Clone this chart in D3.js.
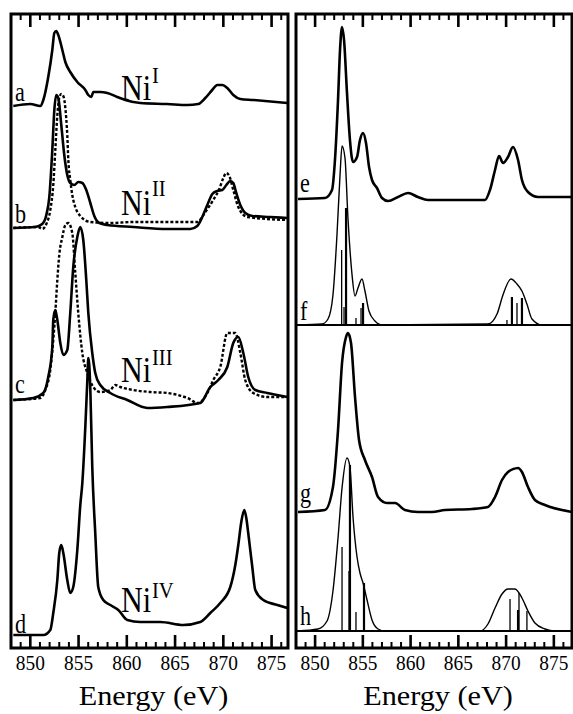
<!doctype html>
<html lang="en">
  <head>
    <title>Ni L-edge spectra</title>
    <style>
      body {
        margin: 0;
        background: #fff;
      }
      svg {
        display: block;
      }
      text {
        font-family: "Liberation Serif", "Times New Roman", serif;
        fill: #000;
      }
    </style>
  </head>
  <body>
    <svg id="chart" width="573" height="714"></svg>

    <script src="https://cdn.jsdelivr.net/npm/d3@7"></script>
    <script>
      // tick values (eV)
      const majorTicks = [850, 855, 860, 865, 870, 875]
      const minorTicks = d3.range(849, 877).filter(v => v % 5 !== 0)

      // left panel: measured spectra, [energy, intensity]; offset = vertical stacking
      const specA = [[848.24,0],[850.0,2],[851.04,0],[851.35,6],[851.86,29],[852.28,56],[852.49,73],[852.69,75],[852.90,71],[853.32,56],[853.63,44],[854.14,34],[854.87,24],[855.70,16],[856.01,11],[856.32,9],[856.53,14],[857.25,14],[857.98,13],[859.01,9],[859.84,6],[861.40,3],[864.19,2],[866.27,1],[867.40,2],[868.13,8],[868.85,16],[869.37,21],[869.89,21],[870.41,18],[871.03,11],[871.76,7],[873.10,6],[876.62,3]]
      const specB = [[848.24,0],[850.52,1],[851.24,4],[851.66,13],[851.97,31],[852.28,78],[852.49,118],[852.69,133],[852.90,130],[853.21,103],[853.52,73],[853.83,53],[854.14,45],[854.56,43],[854.97,46],[855.39,45],[855.80,38],[856.22,25],[856.63,12],[857.15,5],[857.98,3],[860.67,1],[864.19,-1],[866.58,-1],[867.30,2],[867.82,11],[868.34,23],[868.86,34],[869.37,37],[869.89,38],[870.31,43],[870.72,47],[871.03,45],[871.34,35],[871.76,23],[872.27,15],[873.00,12],[874.86,11],[876.62,10]]
      const specBdash = [[848.24,0],[850.83,1],[851.24,-1],[851.66,4],[852.07,18],[852.38,43],[852.59,78],[852.80,113],[853.00,130],[853.21,134],[853.42,132],[853.63,120],[853.83,93],[853.94,68],[854.14,48],[854.35,33],[854.66,21],[855.18,12],[856.22,6],[858.29,5],[860.67,6],[867.30,6],[868.13,16],[868.96,28],[869.58,39],[870.00,50],[870.31,55],[870.62,52],[871.03,38],[871.55,21],[872.48,11],[876.62,8]]
      const specC = [[848.24,0],[850.31,2],[851.35,7],[851.86,23],[852.28,53],[852.38,80],[852.59,90],[852.80,80],[853.11,57],[853.42,45],[853.83,50],[854.14,87],[854.45,133],[854.87,163],[855.18,173],[855.49,160],[855.80,120],[856.01,87],[856.42,47],[856.73,27],[857.25,15],[858.29,7],[860.05,0],[862.12,-8],[864.19,-7],[867.61,-3],[868.65,13],[869.48,20],[870.41,33],[871.03,57],[871.55,63],[872.07,47],[872.58,23],[873.31,10],[874.55,7],[876.62,3]]
      const specCdash = [[848.24,0],[851.04,2],[851.55,10],[852.07,30],[852.38,60],[852.59,87],[852.80,120],[853.00,145],[853.32,163],[853.63,175],[853.94,177],[854.35,167],[854.66,127],[854.97,87],[855.39,47],[855.91,27],[856.53,13],[857.25,8],[858.29,10],[858.81,15],[859.32,13],[860.67,10],[862.43,8],[864.19,7],[866.27,2],[867.40,-3],[868.34,7],[868.96,20],[869.68,33],[870.41,67],[871.24,67],[871.76,47],[872.27,20],[873.10,7],[874.55,3],[876.62,3]]
      const specD = [[848.24,0],[851.35,0],[852.07,5],[852.38,22],[852.80,55],[853.00,82],[853.21,90],[853.42,82],[853.83,55],[854.14,42],[854.45,48],[854.87,85],[855.18,130],[855.39,152],[855.70,208],[855.91,255],[856.01,277],[856.11,270],[856.22,245],[856.42,168],[856.73,102],[857.04,48],[857.56,35],[858.29,30],[859.12,25],[860.05,15],[861.40,13],[863.47,13],[865.85,10],[867.61,13],[868.65,22],[869.68,32],[870.72,48],[871.24,70],[871.55,90],[871.86,113],[872.17,125],[872.38,117],[872.58,102],[873.00,68],[873.31,45],[874.14,35],[875.59,30],[876.62,27]]

      // right panel: measured (e, g) and calculated (f, h) spectra
      const specE = [[848.21,0],[851.03,1],[851.77,9],[852.08,39],[852.40,99],[852.61,149],[852.82,172],[853.03,159],[853.34,106],[853.65,59],[853.97,37],[854.39,42],[854.70,59],[855.02,66],[855.33,56],[855.65,32],[855.96,19],[856.48,11],[857.01,1],[857.64,-2],[858.68,2],[859.73,6],[860.77,2],[861.82,-1],[863.60,-1],[865.70,-1],[867.79,-1],[868.31,9],[868.84,29],[869.26,43],[869.68,36],[870.20,42],[870.72,52],[871.25,39],[871.66,19],[872.29,7],[873.34,2],[876.90,2]]
      const specF = [[848.21,0],[850.72,1],[851.35,6],[851.87,30],[852.29,90],[852.61,150],[852.82,179],[853.13,167],[853.44,107],[853.86,51],[854.18,29],[854.49,37],[854.91,46],[855.22,34],[855.64,14],[856.27,4],[857.01,0],[868.10,1],[869.05,11],[869.67,30],[870.51,46],[871.14,41],[871.66,34],[872.18,21],[872.71,6],[873.76,0],[876.90,0]]
      const specG = [[848.21,0],[851.03,2],[851.87,25],[852.40,82],[852.82,149],[853.24,175],[853.44,179],[853.76,169],[854.18,115],[854.60,72],[855.22,52],[855.96,35],[856.59,15],[857.53,9],[858.37,9],[859.41,2],[860.77,0],[862.24,0],[863.60,2],[866.43,3],[868.10,5],[868.84,15],[869.57,32],[870.20,40],[871.25,44],[871.66,40],[872.29,25],[873.02,12],[874.07,7],[876.90,0]]
      const specH = [[848.21,0],[850.30,2],[851.25,10],[851.87,40],[852.40,93],[852.82,143],[853.34,173],[853.65,164],[853.97,114],[854.39,74],[854.70,58],[855.02,48],[855.44,31],[855.96,11],[856.59,2],[857.32,0],[867.27,0],[868.10,7],[868.84,23],[869.57,37],[870.20,42],[870.93,42],[871.66,33],[872.29,20],[873.02,8],[874.07,2],[875.12,0],[876.90,0]]

      // calculated multiplet lines, [energy, intensity, thick]
      const sticksF = [[852.78,75,0],[853.03,18,0],[853.24,117,1],[854.28,7,0],[854.81,17,0],[855.02,22,1],[870.09,5,0],[870.61,28,1],[871.14,22,0],[871.66,27,1]]
      const sticksH = [[852.82,84,0],[853.55,60,0],[853.65,166,1],[854.28,19,0],[855.12,48,1],[870.41,32,0],[871.25,21,1],[871.35,38,0],[872.18,20,0]]

      const leftSpectra = [
        { data: specA, offset: 542, dash: false, label: 'a', ly: 101 },
        { data: specB, offset: 420, dash: false, label: 'b', ly: 223 },
        { data: specBdash, offset: 420, dash: true },
        { data: specC, offset: 248, dash: false, label: 'c', ly: 393 },
        { data: specCdash, offset: 248, dash: true },
        { data: specD, offset: 13, dash: false, label: 'd', ly: 633 }
      ]
      const rightSpectra = [
        { data: specE, offset: 449, width: 2.6, label: 'e', ly: 192 },
        { data: specF, offset: 323, width: 1.4, label: 'f', ly: 320, base: true, sticks: sticksF },
        { data: specG, offset: 136, width: 2.6, label: 'g', ly: 502 },
        { data: specH, offset: 17, width: 1.4, label: 'h', ly: 625, base: true, sticks: sticksH }
      ]
      const oxidation = [
        { sup: 'I', y: 100, sy: 83 },
        { sup: 'II', y: 215, sy: 196 },
        { sup: 'III', y: 382, sy: 365 },
        { sup: 'IV', y: 612, sy: 598 }
      ]

      const plotTop = 14
      const plotBottom = 648
      const svg = d3.select('#chart')

      const makePanel = (x0, x1, domainEnd, id) => {
        const x = d3.scaleLinear().domain([848, domainEnd]).range([x0, x1])
        const y = d3.scaleLinear().domain([0, plotBottom - plotTop]).range([plotBottom, plotTop])
        const g = svg.append('g')

        g.append('clipPath').attr('id', id)
          .append('rect')
            .attr('x', x0).attr('y', plotTop)
            .attr('width', x1 - x0).attr('height', plotBottom - plotTop)

        const plot = g.append('g').attr('clip-path', `url(#${id})`)

        // inward ticks on top and bottom
        const tickG = g.append('g').attr('stroke', '#000')
        tickG.selectAll('.maj').data(majorTicks).enter()
          .append('path')
            .attr('stroke-width', 2.6)
            .attr('d', d => `M${x(d)},${plotTop}v13M${x(d)},${plotBottom}v-13`)
        tickG.selectAll('.min').data(minorTicks).enter()
          .append('path')
            .attr('stroke-width', 2)
            .attr('d', d => `M${x(d)},${plotTop}v6M${x(d)},${plotBottom}v-6`)

        g.append('rect')
          .attr('x', x0).attr('y', plotTop)
          .attr('width', x1 - x0).attr('height', plotBottom - plotTop)
          .attr('fill', 'none')
          .attr('stroke', '#000')
          .attr('stroke-width', 3)

        g.selectAll('.tl').data(majorTicks).enter()
          .append('text')
            .attr('transform', d => `translate(${x(d)},670) scale(0.88,1)`)
            .attr('text-anchor', 'middle')
            .attr('font-size', 22)
            .text(d => d)

        g.append('text')
          .attr('transform', `translate(${(x0 + x1) / 2 + 4},705) scale(1.08,1)`)
          .attr('text-anchor', 'middle')
          .attr('font-size', 28)
          .text('Energy (eV)')

        return { x, y, g, plot, x0, x1 }
      }

      const left = makePanel(11, 288, 876.7, 'clipL')
      const right = makePanel(296, 572, 876.9, 'clipR')

      const lineFor = (p, offset) => d3.line()
        .x(d => p.x(d[0]))
        .y(d => p.y(offset + d[1]))
        .curve(d3.curveMonotoneX)

      leftSpectra.forEach(s => {
        left.plot.append('path')
          .attr('d', lineFor(left, s.offset)(s.data))
          .attr('fill', 'none')
          .attr('stroke', '#000')
          .attr('stroke-width', s.dash ? 2.4 : 2.6)
          .attr('stroke-dasharray', s.dash ? '3,2' : null)
          .attr('stroke-linejoin', 'round')
        if (s.label) {
          left.g.append('text')
            .attr('transform', `translate(15,${s.ly}) scale(0.82,1)`)
            .attr('font-size', 27)
            .text(s.label)
        }
      })

      oxidation.forEach(o => {
        left.g.append('text')
          .attr('transform', `translate(121,${o.y}) scale(0.86,1)`)
          .attr('font-size', 35)
          .text('Ni')
        left.g.append('text')
          .attr('transform', `translate(152,${o.sy}) scale(0.86,1)`)
          .attr('font-size', 24)
          .text(o.sup)
      })

      rightSpectra.forEach(s => {
        if (s.base) {
          right.g.append('line')
            .attr('x1', right.x0).attr('x2', right.x1)
            .attr('y1', right.y(s.offset)).attr('y2', right.y(s.offset))
            .attr('stroke', '#000')
            .attr('stroke-width', 2.2)
        }
        if (s.sticks) {
          right.plot.selectAll(null).data(s.sticks).enter()
            .append('line')
              .attr('x1', d => right.x(d[0])).attr('x2', d => right.x(d[0]))
              .attr('y1', right.y(s.offset)).attr('y2', d => right.y(s.offset + d[1]))
              .attr('stroke', '#000')
              .attr('stroke-width', d => d[2] ? 2.2 : 1.3)
        }
        right.plot.append('path')
          .attr('d', lineFor(right, s.offset)(s.data))
          .attr('fill', 'none')
          .attr('stroke', '#000')
          .attr('stroke-width', s.width)
          .attr('stroke-linejoin', 'round')
        right.g.append('text')
          .attr('transform', `translate(300,${s.ly}) scale(0.82,1)`)
          .attr('font-size', 27)
          .text(s.label)
      })
    </script>
  </body>
</html>
